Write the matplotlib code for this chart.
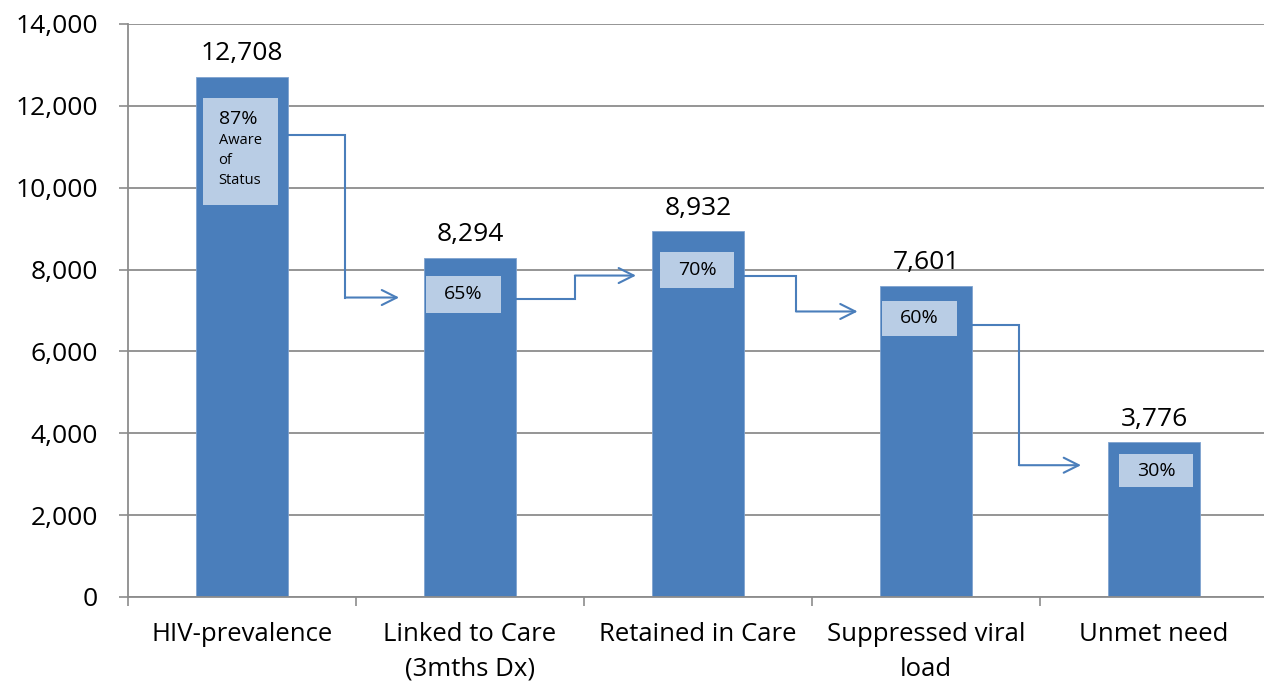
import matplotlib
matplotlib.use("Agg")
import matplotlib.pyplot as plt
from matplotlib.patches import Rectangle
from matplotlib.ticker import FuncFormatter, FixedLocator

plt.rcParams['font.family'] = ['Open Sans', 'DejaVu Sans']

# chart data
categories = ["HIV-prevalence", "Linked to Care\n(3mths Dx)", "Retained in Care",
              "Suppressed viral\nload", "Unmet need"]
values = [12708, 8294, 8932, 7601, 3776]
pct_labels = ["87%", "65%", "70%", "60%", "30%"]
box_notes = ["Aware\nof\nStatus", "", "", "", ""]

# layout of the inner label boxes (data units) and the connector arrows
box_left_offset = [0.031, 0.009, 0.035, 0.009, 0.048]
box_top = [12195, 7854, 8439, 7244, 3488]
box_bottom = [9585, 6951, 7561, 6366, 2683]
arrow_paths = [
    (0.206, 0.452, 0.689, 11293, 7317),
    (1.202, 1.460, 1.728, 7293, 7854),
    (2.200, 2.430, 2.700, 7854, 6976),
    (3.200, 3.410, 3.680, 6634, 3220),
]

bar_color = "#4A7EBB"
box_color = "#B9CDE5"
grid_color = "#8C8C8C"
bar_width = 0.4
box_width = 0.325

fig = plt.figure(figsize=(12.64, 6.81), dpi=100)
ax = fig.add_axes([128 / 1264, 84 / 681, 1140 / 1264, 573 / 681])

x = list(range(len(categories)))
bars = ax.bar(x, values, width=bar_width, color=bar_color, edgecolor="#7FA3D0",
              linewidth=0.6, zorder=2)

for xi, v in zip(x, values):
    ax.annotate(f"{v:,}", (xi, v), xytext=(0, 12), textcoords="offset points",
                ha="center", va="baseline", fontsize=19, color="black")

for i, xi in enumerate(x):
    left = xi - bar_width / 2 + box_left_offset[i]
    ax.add_patch(Rectangle((left, box_bottom[i]), box_width, box_top[i] - box_bottom[i],
                           facecolor=box_color, edgecolor="none", zorder=3))
    if box_notes[i]:
        tx = left + 0.066
        ax.text(tx, box_top[i] - 520, pct_labels[i], ha="left", va="center",
                fontsize=14, zorder=4)
        ax.text(tx, box_top[i] - 850, box_notes[i], ha="left", va="top",
                fontsize=10.5, linespacing=1.45, zorder=4)
    else:
        ax.text(left + box_width / 2, (box_top[i] + box_bottom[i]) / 2, pct_labels[i],
                ha="center", va="center", fontsize=14, zorder=4)

for xs, xm, xe, ys, ye in arrow_paths:
    ax.plot([xs, xm, xm], [ys, ys, ye], color=bar_color, lw=1.5, zorder=4,
            solid_joinstyle="miter")
    ax.annotate("", xy=(xe, ye), xytext=(xm, ye),
                arrowprops=dict(arrowstyle="->,head_length=0.9,head_width=0.45",
                                color=bar_color, lw=1.5, shrinkA=0, shrinkB=0,
                                mutation_scale=12), zorder=4)

ax.set_xlim(-0.5, 4.5)
ax.set_ylim(0, 14000)
ax.set_yticks(range(0, 14001, 2000))
ax.yaxis.set_major_formatter(FuncFormatter(lambda v, p: f"{int(v):,}"))
ax.grid(axis="y", color=grid_color, lw=1.3, zorder=0)
ax.set_axisbelow(True)

ax.xaxis.set_major_locator(FixedLocator([i - 0.5 for i in range(len(categories) + 1)]))
ax.xaxis.set_minor_locator(FixedLocator(x))
ax.set_xticklabels([], minor=False)
ax.set_xticklabels(categories, minor=True, fontsize=18.5, linespacing=1.5)
ax.tick_params(axis="x", which="major", direction="out", length=6.5, color=grid_color, width=1.2)
ax.tick_params(axis="x", which="minor", length=0, pad=18)
ax.tick_params(axis="y", direction="out", length=6.5, color=grid_color, width=1.2,
               labelsize=19, pad=15)

for s in ["top", "right"]:
    ax.spines[s].set_visible(False)
for s in ["left", "bottom"]:
    ax.spines[s].set_color(grid_color)
    ax.spines[s].set_linewidth(1.3)

fig.savefig("out.png", dpi=100)
